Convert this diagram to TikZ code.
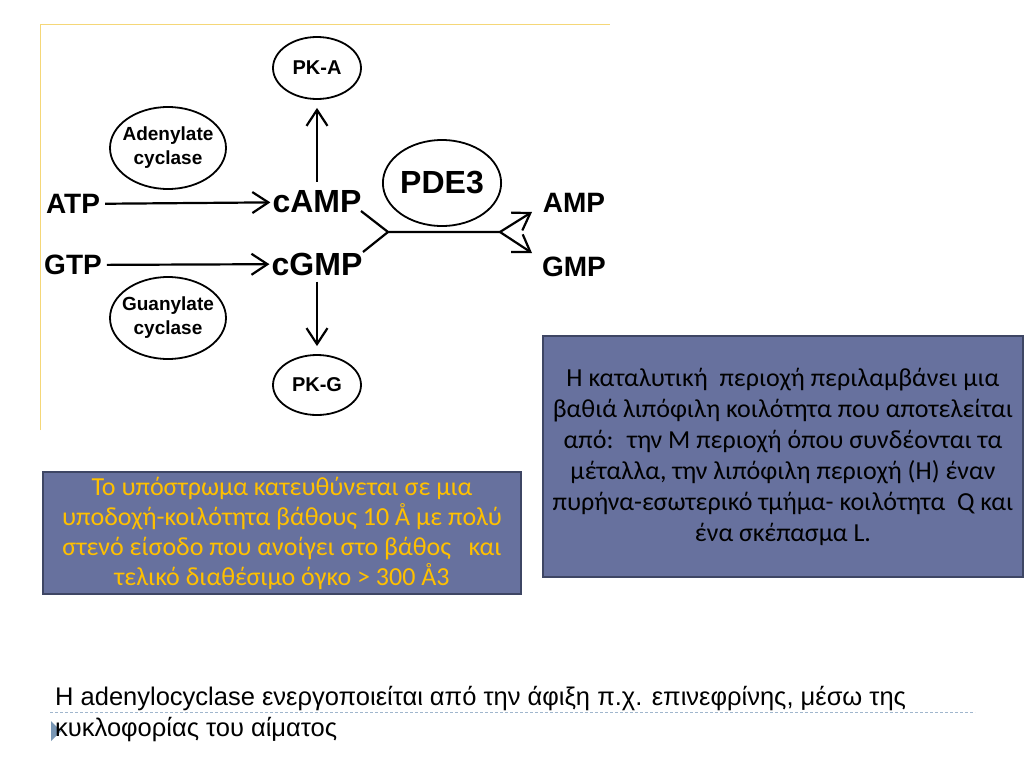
\documentclass[tikz,border=0pt]{standalone}
\usepackage{fontspec}
\setmainfont{Carlito}
\newfontfamily\arialfont{Liberation Sans}
\usetikzlibrary{arrows.meta,shapes.geometric}
\definecolor{boxfill}{RGB}{103,113,158}
\definecolor{boxline}{RGB}{62,70,100}
\definecolor{goldtext}{RGB}{255,192,0}
\definecolor{framey}{RGB}{245,215,120}
\definecolor{rulegray}{RGB}{160,182,205}
\definecolor{bulletblue}{RGB}{120,150,180}

\begin{document}
\begin{tikzpicture}[x=1pt,y=-1pt,>={Straight Barb[length=16pt,width=21pt,line width=2.2pt]},
    mol/.style={font=\arialfont\bfseries\fontsize{28}{30}\selectfont,inner sep=1pt},
    cyc/.style={font=\arialfont\bfseries\fontsize{32}{34}\selectfont,inner sep=1pt},
    enz/.style={draw,ellipse,line width=1.8pt,align=center,inner sep=0pt,
      font=\arialfont\bfseries\fontsize{19}{24}\selectfont},
    arr/.style={->,line width=2.2pt},
    notebox/.style={draw=boxline,fill=boxfill,line width=1.2pt,align=center,inner sep=0pt}]
    \useasboundingbox (0,0) rectangle (1024,768);
    \fill[white] (0,0) rectangle (1024,768);
    \draw[framey,line width=1pt] (40,430) -- (40,25) -- (610,25);

    % pathway
    \node[mol] (atp) at (73,204) {ATP};
    \node[mol] (gtp) at (73,265) {GTP};
    \node[cyc] (camp) at (317,202) {cAMP};
    \node[cyc] (cgmp) at (317,264) {cGMP};
    \node[mol] (amp) at (574,203) {AMP};
    \node[mol] (gmp) at (574,267) {GMP};
    \node[enz,minimum width=88,minimum height=62,font=\arialfont\bfseries\fontsize{20}{24}\selectfont] (pka) at (317,68) {PK-A};
    \node[enz,minimum width=88,minimum height=60,font=\arialfont\bfseries\fontsize{20}{24}\selectfont] (pkg) at (317,385) {PK-G};
    \node[enz,inner xsep=-12pt,minimum width=116,minimum height=82] (adcyc) at (168,148) {Adenylate\\cyclase};
    \node[enz,inner xsep=-12pt,minimum width=116,minimum height=82] (gucyc) at (168,318) {Guanylate\\cyclase};
    \node[enz,minimum width=118,minimum height=86,font=\arialfont\bfseries\fontsize{32}{34}\selectfont] (pde) at (442,183) {PDE3};

    \draw[arr,shorten <=4pt,shorten >=1pt] (atp) -- (camp);
    \draw[arr,shorten <=4pt,shorten >=1pt] (gtp) -- (cgmp);
    \draw[arr,shorten <=8pt,shorten >=8pt] (camp) -- (pka);
    \draw[arr,shorten <=5pt,shorten >=8pt] (cgmp) -- (pkg);

    % PDE3 hydrolysis fork
    \coordinate (cin) at (361,211);
    \coordinate (gin) at (363,252);
    \coordinate (jn) at (388,232);
    \coordinate (fk) at (500,232);
    \coordinate (ampend) at (532,212);
    \coordinate (gmpend) at (532,253);
    \draw[line width=2.2pt,line join=round] (cin) -- (jn) -- (fk);
    \draw[line width=2.2pt] (gin) -- (jn);
    \draw[arr] (fk) -- (ampend);
    \draw[arr] (fk) -- (gmpend);

    % text boxes
    \node[notebox,minimum width=480,minimum height=241,
      font=\fontsize{26}{31}\selectfont] (pocket) at (783,456.5)
      {Η καταλυτική \ περιοχή περιλαμβάνει μια\\
       βαθιά λιπόφιλη κοιλότητα που αποτελείται\\
       από: \ την Μ περιοχή όπου συνδέονται τα\\
       μέταλλα, την λιπόφιλη περιοχή (Η) έναν\\
       πυρήνα-εσωτερικό τμήμα- κοιλότητα \ Q και\\
       ένα σκέπασμα L.};
    \node[notebox,minimum width=478,minimum height=122,text=goldtext,
      font=\fontsize{26}{30}\selectfont] (entry) at (282,533)
      {Το υπόστρωμα κατευθύνεται σε μια\\
       υποδοχή-κοιλότητα βάθους 10 Å με πολύ\\
       στενό είσοδο που ανοίγει στο βάθος \ \ και\\
       τελικό διαθέσιμο όγκο > 300 Å3};

    % footnote
    \draw[rulegray,line width=1pt,dash pattern=on 3pt off 2pt] (50,712) -- (975,712);
    \fill[bulletblue] (51,721) -- (51,741) -- (61,731) -- cycle;
    \node[anchor=base west,inner sep=0pt,font=\arialfont\fontsize{25.5}{28}\selectfont] (foot1) at (55,705)
      {Η adenylocyclase ενεργοποιείται από την άφιξη π.χ. επινεφρίνης, μέσω της};
    \node[anchor=base west,inner sep=0pt,font=\arialfont\fontsize{25.5}{28}\selectfont] (foot2) at (55,736)
      {κυκλοφορίας του αίματος};
\end{tikzpicture}
\end{document}
